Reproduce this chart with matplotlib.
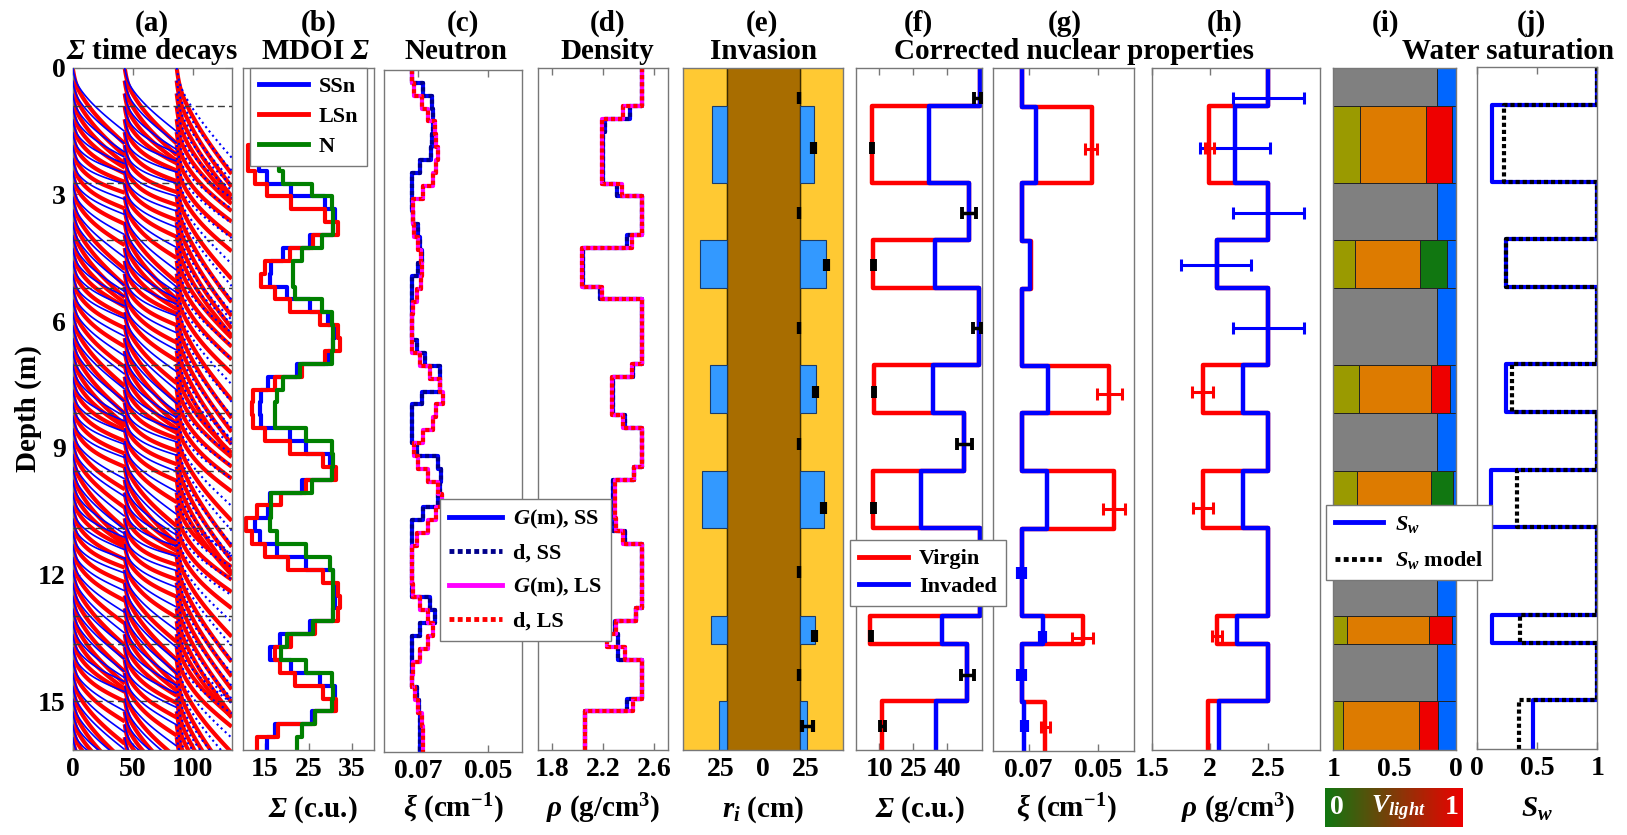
import numpy as np
import matplotlib
matplotlib.use("Agg")
import matplotlib.pyplot as plt
from matplotlib.lines import Line2D
from matplotlib.collections import LineCollection
from matplotlib.colors import LinearSegmentedColormap

plt.rcParams.update({
    "font.family": "Liberation Serif",
    "font.weight": "bold",
    "mathtext.fontset": "custom",
    "mathtext.rm": "Liberation Serif:bold",
    "mathtext.it": "Liberation Serif:italic:bold",
    "mathtext.bf": "Liberation Serif:bold",
    "mathtext.cal": "Liberation Serif:italic:bold",
    "axes.linewidth": 1.0,
})

W, H = 1627, 835
fig = plt.figure(figsize=(W / 100, H / 100), dpi=100)

# ---------------------------------------------------------------- data
FT = 0.3048                       # 1-ft depth sampling
N_ST = 53
station_edges = np.arange(N_ST + 1) * FT
depth_max = station_edges[-1]
depth_ticks = [0, 3, 6, 9, 12, 15]

# (b) multi-depth-of-investigation sigma logs (c.u.)
sigma_ssn = [31.0, 30.5, 27.0, 21.0, 16.0, 13.0, 11.6, 13.6, 15.4, 21.1, 28.8, 31.0, 30.7,
             25.3, 19.1, 16.5, 16.2, 20.0, 25.3, 29.5, 31.1, 30.7, 29.5, 22.3, 15.8, 14.2,
             13.9, 14.2, 20.8, 24.5, 29.9, 30.3, 23.4, 16.2, 15.8, 12.7, 13.9, 17.7, 24.5,
             30.7, 31.1, 31.1, 30.7, 25.3, 18.4, 16.2, 21.1, 27.6, 31.1, 31.1, 25.7, 17.3, 15.4]
sigma_lsn = [31.0, 30.0, 25.0, 18.0, 14.0, 12.5, 11.2, 11.2, 12.7, 15.4, 21.1, 28.8, 31.8,
             26.1, 20.8, 15.0, 14.2, 17.3, 20.8, 27.6, 31.8, 32.2, 28.8, 23.4, 17.3, 12.4,
             12.0, 12.4, 15.0, 20.8, 28.4, 31.4, 24.5, 18.8, 13.1, 10.8, 12.0, 15.0, 20.4,
             28.4, 31.8, 32.2, 31.8, 26.5, 21.1, 17.3, 18.4, 21.9, 28.4, 31.4, 26.5, 18.0, 13.1]
sigma_n = [30.5, 30.5, 29.0, 25.0, 21.0, 18.5, 17.5, 18.2, 19.2, 25.7, 30.3, 30.7, 30.5,
           28.0, 23.4, 21.5, 21.5, 21.9, 28.0, 30.3, 30.7, 30.5, 30.3, 23.0, 19.2, 17.7,
           17.3, 17.3, 24.5, 30.3, 30.7, 30.3, 25.7, 16.5, 16.5, 16.2, 17.7, 24.5, 29.9,
           30.7, 30.7, 30.7, 30.7, 26.1, 20.0, 18.8, 24.5, 30.3, 30.7, 30.3, 26.5, 23.4, 22.3]

# (c) neutron slowing-down length (cm^-1)
xi_ss = [0.0717, 0.0686, 0.0662, 0.0657, 0.0659, 0.0662, 0.0664, 0.0695, 0.0719, 0.0719,
         0.0719, 0.0714, 0.0700, 0.0695, 0.0690, 0.0700, 0.0719, 0.0719, 0.0719, 0.0719,
         0.0719, 0.0705, 0.0681, 0.0638, 0.0638, 0.0690, 0.0719, 0.0719, 0.0719, 0.0705,
         0.0643, 0.0636, 0.0638, 0.0643, 0.0686, 0.0719, 0.0719, 0.0719, 0.0719, 0.0719,
         0.0719, 0.0667, 0.0652, 0.0695, 0.0719, 0.0719, 0.0719, 0.0719, 0.0705, 0.0698,
         0.0695, 0.0695, 0.0695]
xi_ls = [0.0717, 0.0711, 0.0690, 0.0671, 0.0652, 0.0648, 0.0645, 0.0648, 0.0659, 0.0686,
         0.0716, 0.0716, 0.0711, 0.0700, 0.0692, 0.0688, 0.0693, 0.0705, 0.0716, 0.0719,
         0.0719, 0.0717, 0.0695, 0.0667, 0.0638, 0.0629, 0.0648, 0.0657, 0.0686, 0.0711,
         0.0700, 0.0671, 0.0643, 0.0633, 0.0648, 0.0671, 0.0705, 0.0719, 0.0719, 0.0719,
         0.0716, 0.0695, 0.0671, 0.0657, 0.0671, 0.0695, 0.0714, 0.0719, 0.0710, 0.0700,
         0.0690, 0.0686, 0.0686]

# (d) bulk density (g/cm3)
rho_ss = [2.506, 2.506, 2.506, 2.41, 2.215, 2.20, 2.20, 2.20, 2.20, 2.306, 2.50, 2.50, 2.50,
          2.384, 2.047, 2.047, 2.047, 2.176, 2.50, 2.50, 2.50, 2.50, 2.50, 2.436, 2.275, 2.275,
          2.275, 2.37, 2.50, 2.50, 2.50, 2.44, 2.28, 2.28, 2.28, 2.28, 2.37, 2.50, 2.50, 2.50,
          2.50, 2.50, 2.46, 2.29, 2.32, 2.32, 2.50, 2.50, 2.50, 2.384, 2.06, 2.06, 2.06]
rho_ls = [2.506, 2.506, 2.506, 2.358, 2.19, 2.19, 2.19, 2.19, 2.19, 2.345, 2.50, 2.50, 2.50,
          2.423, 2.034, 2.034, 2.034, 2.195, 2.50, 2.50, 2.50, 2.50, 2.50, 2.423, 2.27, 2.27,
          2.27, 2.358, 2.50, 2.50, 2.50, 2.44, 2.29, 2.29, 2.29, 2.30, 2.358, 2.50, 2.50, 2.50,
          2.50, 2.50, 2.46, 2.30, 2.23, 2.37, 2.50, 2.50, 2.50, 2.436, 2.06, 2.06, 2.06]

# layered earth model (shale / sand alternating)
layer_edges = [0.0, 0.91, 2.72, 4.08, 5.22, 7.04, 8.17, 9.54, 10.9, 12.97, 13.64, 14.99, depth_max]
marker_depth = [0.71, 1.91, 3.43, 4.66, 6.17, 7.68, 8.9, 10.43, 11.94, 13.46, 14.37, 15.58]

# (e) invasion
borehole_r = 21.5
invasion_r = [0, 30.0, 0, 37.1, 0, 31.4, 0, 35.8, 0, 30.5, 0, 26.1]
invasion_est = [21.3, 29.6, 21.3, 37.3, 21.3, 31.1, 21.3, 35.7, 21.3, 30.4, 21.3, 26.3]
invasion_err = [0.0, 0.9, 0.0, 0.9, 0.0, 0.9, 0.0, 0.9, 0.0, 0.9, 0.0, 3.1]

# (f) corrected sigma
sigma_virgin = [54.4, 6.6, 49.6, 7.4, 54.1, 7.7, 47.4, 7.4, 54.4, 5.9, 48.5, 11.1]
sigma_invaded = [54.4, 32.0, 49.6, 34.6, 54.1, 33.8, 47.4, 28.3, 54.4, 37.5, 48.5, 34.9]
sigma_est = [53.5, 6.8, 49.6, 7.4, 53.2, 7.5, 47.6, 7.4, 54.0, 6.3, 48.8, 11.3]
sigma_err = [1.6, 0.5, 3.3, 0.5, 1.8, 0.5, 3.2, 0.5, 1.5, 0.5, 2.9, 1.0]

# (g) corrected neutron
xi_virgin = [0.0719, 0.0519, 0.0719, 0.0694, 0.0719, 0.0469, 0.0719, 0.0454, 0.0719, 0.0543, 0.0719, 0.0652]
xi_invaded = [0.0719, 0.0679, 0.0719, 0.0695, 0.0719, 0.0643, 0.0719, 0.0646, 0.0719, 0.0660, 0.0719, 0.0712]
xi_red_depth = [1.91, 7.72, 10.44, 13.48, 15.6]
xi_red_est = [0.0521, 0.0469, 0.0455, 0.0546, 0.0651]
xi_red_err = [0.00167, 0.0036, 0.0031, 0.0030, 0.0013]
xi_blue_depth = [11.94, 13.46, 14.37, 15.58]
xi_blue_est = [0.0719, 0.0660, 0.0719, 0.0711]
xi_blue_err = [0.0010, 0.0007, 0.0010, 0.0007]

# (h) corrected density
rho_virgin = [2.5, 1.994, 2.5, 2.06, 2.5, 1.937, 2.5, 1.943, 2.5, 2.065, 2.5, 1.986]
rho_invaded = [2.5, 2.216, 2.5, 2.06, 2.5, 2.286, 2.5, 2.286, 2.5, 2.235, 2.5, 2.075]
rho_blue_depth = [0.71, 1.91, 3.43, 4.66, 6.17]
rho_blue_est = [2.5, 2.216, 2.5, 2.051, 2.5]
rho_blue_err = [0.305, 0.303, 0.305, 0.30, 0.305]
rho_red_depth = [1.91, 7.68, 10.43, 13.46]
rho_red_est = [1.994, 1.937, 1.942, 2.065]
rho_red_err = [0.04, 0.09, 0.083, 0.043]

# (i) volumetric fractions
vol_gray = [0.843, 0, 0.843, 0, 0.843, 0, 0.843, 0, 0.843, 0, 0.843, 0]
vol_olive = [0, 0.220, 0, 0.177, 0, 0.212, 0, 0.190, 0, 0.114, 0, 0.082]
vol_orange = [0, 0.535, 0, 0.530, 0, 0.584, 0, 0.606, 0, 0.663, 0, 0.619]
vol_hc = [0, 0.210, 0, 0.222, 0, 0.155, 0, 0.182, 0, 0.193, 0, 0.155]
vol_water = [0.157, 0.035, 0.157, 0.071, 0.157, 0.049, 0.157, 0.022, 0.157, 0.030, 0.157, 0.144]
v_light = [0.0, 1.0, 0.0, 0.0, 0.0, 1.0, 0.0, 0.0, 0.0, 1.0, 0.0, 1.0]

# (j) water saturation
sw = [1, 0.125, 1, 0.24, 1, 0.24, 1, 0.11, 1, 0.12, 1, 0.467]
sw_model = [1, 0.225, 1, 0.24, 1, 0.29, 1, 0.33, 1, 0.356, 1, 0.345]

# (a) capture-decay gating: three detector windows, two borehole components + formation
decay_t0 = [0.0, 43.33, 86.67]
decay_len = [43.33, 43.33, 45.8]
decay_amp = [0.80, 0.80, 0.95]
decay_rate = [1.0e-3, 1.0e-3, 1.25e-3]
bh_fast_frac, bh_fast_tau = 0.30, 1.5
bh_slow_frac, bh_slow_tau = 0.30, 8.0
meas_rate_factor = 0.88

# ---------------------------------------------------------------- helpers
SPINE = "#777777"
TICK_FS = 20
LBL_FS = 21


def steps(values, edges):
    v = np.asarray(values, float)
    e = np.asarray(edges, float)
    x = np.repeat(v, 2)
    y = np.empty(2 * len(v))
    y[0::2] = e[:-1]
    y[1::2] = e[1:]
    return x, y


def add_ax(left, right, top=67.7, bottom=750.0):
    return fig.add_axes([left / W, 1 - bottom / H, (right - left) / W, (bottom - top) / H])


def style(ax, xlim, xticks, labels=None):
    ax.set_xlim(*xlim)
    ax.set_ylim(depth_max, 0)
    ax.set_xticks(xticks)
    if labels is not None:
        ax.set_xticklabels(labels)
    ax.set_yticks([])
    ax.tick_params(axis="x", direction="in", top=True, bottom=True, length=5, width=1,
                   labelsize=TICK_FS, pad=5, color=SPINE)
    for sp in ax.spines.values():
        sp.set_color(SPINE)


def xlabel(text, xc):
    fig.text(xc / W, 1 - 817 / H, text, ha="center", va="baseline", fontsize=LBL_FS)


# ---------------------------------------------------------------- (a)
ax_a = add_ax(72.7, 231.7)
style(ax_a, (0, 132.5), [0, 50, 100])
ax_a.set_yticks(depth_ticks)
ax_a.tick_params(axis="y", direction="in", left=True, right=True, length=5,
                 labelsize=TICK_FS, pad=5, color=SPINE)
sigma_sets = [sigma_ssn, sigma_lsn, sigma_n]
form_frac = 1 - bh_fast_frac - bh_slow_frac
for s in range(3):
    L = decay_len[s]
    t = np.concatenate([np.linspace(0, 6, 40), np.linspace(6, L, 70)[1:]])
    bh = bh_fast_frac * np.exp(-t / bh_fast_tau) + bh_slow_frac * np.exp(-t / bh_slow_tau)
    red_segs, blue_segs = [], []
    for k in range(N_ST):
        d = station_edges[k]
        sig = sigma_sets[s][k]
        y_sim = d - decay_amp[s] * np.log(bh + form_frac * np.exp(-sig * decay_rate[s] * t))
        y_meas = d - decay_amp[s] * np.log(
            0.85 * bh + (1 - 0.85 * (bh_fast_frac + bh_slow_frac))
            * np.exp(-sig * decay_rate[s] * meas_rate_factor * t))
        red_segs.append(np.column_stack([decay_t0[s] + t, y_sim]))
        blue_segs.append(np.column_stack([decay_t0[s] + t, y_meas]))
    ax_a.add_collection(LineCollection(red_segs, colors="#ff0000", linewidths=3.0, zorder=2))
    ax_a.add_collection(LineCollection(blue_segs, colors="#0000ff",
                                       linewidths=1.5 if s == 2 else 1.2,
                                       linestyles=":" if s == 2 else "-", zorder=3))
for b in layer_edges[1:-1]:
    ax_a.axhline(b, color="#3a3a3a", lw=1.0, ls=(0, (5, 3)), zorder=5)

# ---------------------------------------------------------------- (b)
ax_b = add_ax(243, 374)
style(ax_b, (10, 40), [15, 25, 35])
for vals, col in [(sigma_ssn, "#0000ff"), (sigma_lsn, "#ff0000"), (sigma_n, "#008000")]:
    x, y = steps(vals, station_edges)
    ax_b.plot(x, y, color=col, lw=3.0)
xlabel(r"$\mathcal{\Sigma}$ (c.u.)", 313)

# ---------------------------------------------------------------- (c)
ax_c = add_ax(384.3, 522.3, top=70, bottom=751.7)
style(ax_c, (0.0797, 0.0403), [0.07, 0.05], ["0.07", "0.05"])
DOT = (0, (1, 0.7))
x, y = steps(xi_ss, station_edges)
ax_c.plot(x, y, color="#0000ff", lw=3.0)
ax_c.plot(x, y, color="#00008b", lw=3.0, ls=DOT)
x, y = steps(xi_ls, station_edges)
ax_c.plot(x, y, color="#ff00ff", lw=3.0)
ax_c.plot(x, y, color="#ff0000", lw=3.0, ls=DOT)
xlabel(r"$\xi$ (cm$^{\mathbf{-1}}$)", 453)

# ---------------------------------------------------------------- (d)
ax_d = add_ax(537.7, 667.7)
style(ax_d, (1.691, 2.704), [1.8, 2.2, 2.6])
x, y = steps(rho_ss, station_edges)
ax_d.plot(x, y, color="#0000ff", lw=3.0)
ax_d.plot(x, y, color="#00008b", lw=3.0, ls=DOT)
x, y = steps(rho_ls, station_edges)
ax_d.plot(x, y, color="#ff00ff", lw=3.0)
ax_d.plot(x, y, color="#ff0000", lw=3.0, ls=DOT)
xlabel(r"$\rho$ (g/cm$^{3}$)", 603)

# ---------------------------------------------------------------- (e)
ax_e = add_ax(682.7, 843.3)
style(ax_e, (-47.3, 47.3), [-25, 0, 25], ["25", "0", "25"])
ax_e.set_facecolor("#ffc933")
ax_e.tick_params(axis="x", length=0)
ax_e.axvspan(-borehole_r, borehole_r, color="#a86d00", zorder=1)
ax_e.axvline(-borehole_r, color="#3a2a00", lw=1.0, zorder=2)
ax_e.axvline(borehole_r, color="#3a2a00", lw=1.0, zorder=2)
for i in range(12):
    if invasion_r[i] > 0:
        top, bot = layer_edges[i], layer_edges[i + 1]
        for sgn in (-1, 1):
            lo = min(sgn * borehole_r, sgn * invasion_r[i])
            ax_e.bar(lo, bot - top, width=invasion_r[i] - borehole_r, bottom=top, align="edge",
                     color="#3399ff", edgecolor="#1c3b66", lw=0.8, zorder=2)
ax_e.errorbar(invasion_est, marker_depth, xerr=invasion_err, fmt="none", ecolor="black",
              elinewidth=2.5, capsize=4.5, capthick=3.0, zorder=4)
xlabel(r"$r_{i}$ (cm)", 763)

# ---------------------------------------------------------------- (f)
ax_f = add_ax(856, 981.7)
style(ax_f, (-0.3, 55.2), [10, 25, 40])
x, y = steps(sigma_virgin, layer_edges)
ax_f.plot(x, y, color="#ff0000", lw=3.2)
x, y = steps(sigma_invaded, layer_edges)
ax_f.plot(x, y, color="#0000ff", lw=3.2)
ax_f.errorbar(sigma_est, marker_depth, xerr=sigma_err, fmt="none", ecolor="black",
              elinewidth=2.5, capsize=4.5, capthick=2.8, zorder=4)
xlabel(r"$\mathcal{\Sigma}$ (c.u.)", 920)

# ---------------------------------------------------------------- (g)
ax_g = add_ax(993.3, 1134.3, top=68.3, bottom=750.7)
style(ax_g, (0.0801, 0.0397), [0.07, 0.05], ["0.07", "0.05"])
x, y = steps(xi_virgin, layer_edges)
ax_g.plot(x, y, color="#ff0000", lw=3.2)
x, y = steps(xi_invaded, layer_edges)
ax_g.plot(x, y, color="#0000ff", lw=3.2)
ax_g.errorbar(xi_blue_est, xi_blue_depth, xerr=xi_blue_err, fmt="none", ecolor="#0000ff",
              elinewidth=3, capsize=4.5, capthick=3, zorder=4)
ax_g.errorbar(xi_red_est, xi_red_depth, xerr=xi_red_err, fmt="none", ecolor="#ff0000",
              elinewidth=2.2, capsize=4.5, capthick=2.2, zorder=5)
xlabel(r"$\xi$ (cm$^{\mathbf{-1}}$)", 1066)

# ---------------------------------------------------------------- (h)
ax_h = add_ax(1151.7, 1320)
style(ax_h, (1.51, 2.946), [1.5, 2.0, 2.5], ["1.5", "2", "2.5"])
x, y = steps(rho_virgin, layer_edges)
ax_h.plot(x, y, color="#ff0000", lw=3.2)
x, y = steps(rho_invaded, layer_edges)
ax_h.plot(x, y, color="#0000ff", lw=3.2)
ax_h.errorbar(rho_blue_est, rho_blue_depth, xerr=rho_blue_err, fmt="none", ecolor="#0000ff",
              elinewidth=2.2, capsize=4.5, capthick=2.2, zorder=4)
ax_h.errorbar(rho_red_est, rho_red_depth, xerr=rho_red_err, fmt="none", ecolor="#ff0000",
              elinewidth=2.2, capsize=4.5, capthick=2.2, zorder=5)
xlabel(r"$\rho$ (g/cm$^{3}$)", 1238)

# ---------------------------------------------------------------- (i)
vlight_cmap = LinearSegmentedColormap.from_list("vlight", ["#117711", "#ee0000"])
ax_i = add_ax(1333.3, 1456, top=68, bottom=750)
style(ax_i, (1, 0), [1, 0.5, 0], ["1", "0.5", "0"])
ax_i.tick_params(axis="x", length=0)
for i in range(12):
    top, bot = layer_edges[i], layer_edges[i + 1]
    parts = [(vol_water[i], "#0066ff"), (vol_hc[i], vlight_cmap(float(v_light[i]))),
             (vol_orange[i], "#dd7b00"), (vol_olive[i], "#9a9a00"), (vol_gray[i], "#808080")]
    left = 0.0
    for frac, col in parts:
        if frac > 0:
            ax_i.bar(left, bot - top, width=frac, bottom=top, align="edge", color=col,
                     edgecolor="#222222", lw=0.7)
            left += frac

# colour scale for V_light
cax = fig.add_axes([1325 / W, 1 - 827.3 / H, (1462.7 - 1325) / W, (827.3 - 788.3) / H])
cax.imshow(np.linspace(0, 1, 256)[None, :], aspect="auto", cmap=vlight_cmap, extent=[0, 1, 0, 1])
cax.set_axis_off()
fig.text(1336.7 / W, 1 - 808 / H, "0", color="white", fontsize=20, ha="center", va="center")
fig.text(1451.7 / W, 1 - 808 / H, "1", color="white", fontsize=20, ha="center", va="center")
fig.text(1398 / W, 1 - 808 / H, r"$V_{light}$", color="white", fontsize=19, ha="center", va="center")

# ---------------------------------------------------------------- (j)
ax_j = add_ax(1477.3, 1597.3, top=66.7, bottom=749)
style(ax_j, (0, 1), [0, 0.5, 1], ["0", "0.5", "1"])
x, y = steps(sw, layer_edges)
ax_j.plot(x, y, color="#0000ff", lw=3.0)
x, y = steps(sw_model, layer_edges)
ax_j.plot(x, y, color="black", lw=3.0, ls=DOT)
xlabel(r"$S_{w}$", 1537)

# ---------------------------------------------------------------- titles & labels
fig.text(28 / W, 1 - 409 / H, "Depth (m)", rotation=90, ha="center", va="center", fontsize=LBL_FS)

L1, L2 = 1 - 31 / H, 1 - 59 / H
for lab, xc in [("(a)", 151.7), ("(b)", 318.3), ("(c)", 462.7), ("(d)", 607.3), ("(e)", 762.3),
                ("(f)", 918.3), ("(g)", 1065), ("(h)", 1224.3), ("(i)", 1385.7), ("(j)", 1531.7)]:
    fig.text(xc / W, L1, lab, ha="center", va="baseline", fontsize=LBL_FS)
for lab, xc in [(r"$\mathcal{\Sigma}$ time decays", 152), (r"MDOI $\mathcal{\Sigma}$", 315.8),
                ("Neutron", 456), ("Density", 607.3), ("Invasion", 763.3),
                ("Corrected nuclear properties", 1073.5), ("Water saturation", 1508)]:
    fig.text(xc / W, L2, lab, ha="center", va="baseline", fontsize=LBL_FS)

# ---------------------------------------------------------------- legends
leg_prop = {"family": "Liberation Serif", "weight": "bold", "size": 16}


def legend(handles, labels, x, y, spacing, hlen=2.2):
    lg = fig.legend(handles, labels, loc="upper left", bbox_to_anchor=(x / W, 1 - y / H),
                    bbox_transform=fig.transFigure, borderaxespad=0, prop=leg_prop,
                    fancybox=False, framealpha=1, edgecolor="#777777", handlelength=hlen,
                    handletextpad=0.5, labelspacing=spacing, borderpad=0.4)
    lg.get_frame().set_linewidth(1.0)
    return lg


legend([Line2D([], [], color="#0000ff", lw=3.5), Line2D([], [], color="#ff0000", lw=3.5),
        Line2D([], [], color="#008000", lw=3.5)], ["SSn", "LSn", "N"], 250, 67.7, 0.42)
legend([Line2D([], [], color="#0000ff", lw=3.5), Line2D([], [], color="#00008b", lw=3.5, ls=DOT),
        Line2D([], [], color="#ff00ff", lw=3.5), Line2D([], [], color="#ff0000", lw=3.5, ls=DOT)],
       [r"$G$(m), SS", "d, SS", r"$G$(m), LS", "d, LS"], 440, 499, 0.55, 2.4)
legend([Line2D([], [], color="#ff0000", lw=3.5), Line2D([], [], color="#0000ff", lw=3.5)],
       ["Virgin", "Invaded"], 850, 540, 0.3)
legend([Line2D([], [], color="#0000ff", lw=3.5), Line2D([], [], color="black", lw=3.5, ls=DOT)],
       [r"$S_{w}$", r"$S_{w}$ model"], 1325.7, 505, 0.65)

fig.savefig("out.png", dpi=100)
